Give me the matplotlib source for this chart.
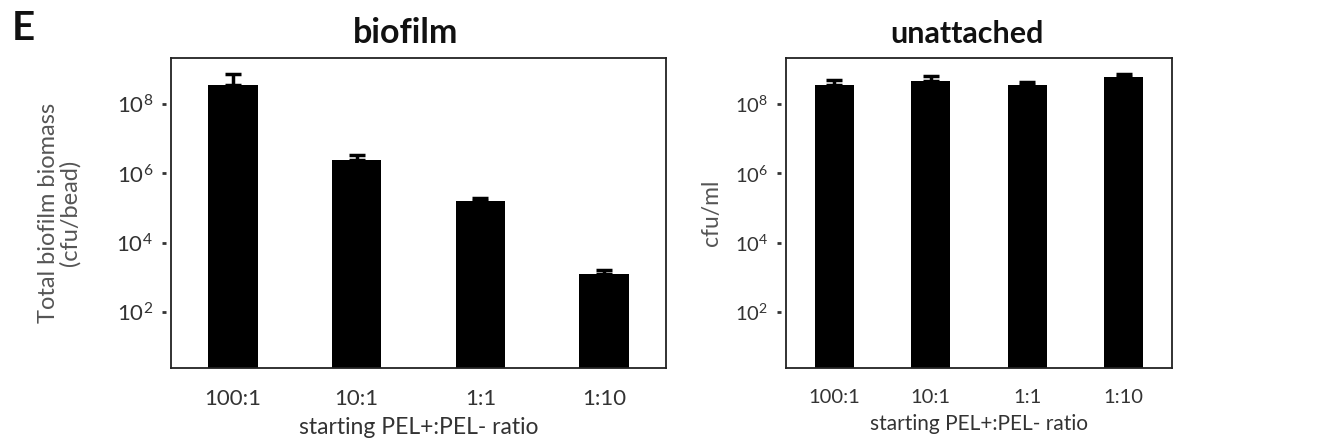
import matplotlib
matplotlib.use("Agg")
from matplotlib import pyplot as plt
import numpy as np

plt.rcParams['font.family'] = ['Lato', 'DejaVu Sans']
plt.rcParams['mathtext.fontset'] = 'custom'
plt.rcParams['mathtext.rm'] = 'Lato'
plt.rcParams['mathtext.it'] = 'Lato:italic'
plt.rcParams['mathtext.bf'] = 'Lato:bold'

ratios = ['100:1', '10:1', '1:1', '1:10']

# biofilm (cfu/bead): bar height and top of error bar
biofilm_mean = [3.5e8, 2.5e6, 1.65e5, 1.27e3]
biofilm_upper = [7.3e8, 3.3e6, 1.95e5, 1.7e3]

# unattached (cfu/ml)
unatt_mean = [3.5e8, 4.6e8, 3.5e8, 5.9e8]
unatt_upper = [4.9e8, 6.4e8, 4.4e8, 7.6e8]

ytick_vals = [1e2, 1e4, 1e6, 1e8]
ytick_labels = [r'$\mathregular{10^{2}}$', r'$\mathregular{10^{4}}$',
                r'$\mathregular{10^{6}}$', r'$\mathregular{10^{8}}$']

txt_col = '#333333'
lab_col = '#555555'
W, H = 1325, 443
fig = plt.figure(figsize=(W / 100, H / 100), dpi=100)

ax1 = fig.add_axes([171 / W, 1 - 368 / H, (666 - 171) / W, (368 - 58) / H])
ax2 = fig.add_axes([786 / W, 1 - 368 / H, (1172 - 786) / W, (368 - 58) / H])


def draw(ax, mean, upper, title, ylabel, dash_x, fs, title_fs, ylab_fs, ylab_pad):
    x = np.arange(len(ratios))
    mean = np.array(mean)
    upper = np.array(upper)
    err = [np.zeros(len(mean)), upper - mean]
    ax.bar(x, mean, width=0.4, color='black', zorder=2)
    ax.errorbar(x, mean, yerr=err, fmt='none', ecolor='black',
                elinewidth=2.5, capsize=6, capthick=2.5, zorder=3)
    ax.set_yscale('log')
    ax.set_ylim(10 ** 0.39, 10 ** 9.33)
    ax.set_xlim(-0.5, 3.5)
    ax.set_xticks(x)
    ax.set_xticklabels(ratios, fontsize=fs, color=txt_col)
    ax.set_yticks(ytick_vals)
    ax.set_yticklabels(ytick_labels, fontsize=fs, color=txt_col)
    ax.yaxis.set_minor_locator(matplotlib.ticker.NullLocator())
    ax.tick_params(axis='x', length=0, pad=15)
    ax.tick_params(axis='y', length=0, pad=13)
    # little dash tick marks sitting off the frame
    ax.plot([dash_x] * len(ytick_vals), ytick_vals, linestyle='none',
            marker='_', markersize=3.5, mew=2, color=txt_col,
            transform=ax.get_yaxis_transform(), clip_on=False)
    for s in ax.spines.values():
        s.set_linewidth(1.3)
        s.set_color('#222222')
    ax.set_title(title, fontsize=title_fs, fontweight='bold', pad=11, color='#111111')
    ax.set_xlabel('starting PEL+:PEL- ratio', fontsize=fs + 0.5, color=txt_col, labelpad=6)
    ax.set_ylabel(ylabel, fontsize=ylab_fs, color=lab_col, linespacing=1.0,
                  labelpad=ylab_pad)


draw(ax1, biofilm_mean, biofilm_upper, 'biofilm',
     'Total biofilm biomass\n(cfu/bead)', -0.015, 16, 24.5, 17, 26)
draw(ax2, unatt_mean, unatt_upper, 'unattached', 'cfu/ml', -0.017,
     14.5, 22, 16.5, 9)
ax1.title.set_x(0.473)
ax2.title.set_x(0.47)

fig.text(12 / W, 1 - 40 / H, 'E', fontsize=29, fontweight='bold', color='#111111')

fig.savefig('out.png', dpi=100)
